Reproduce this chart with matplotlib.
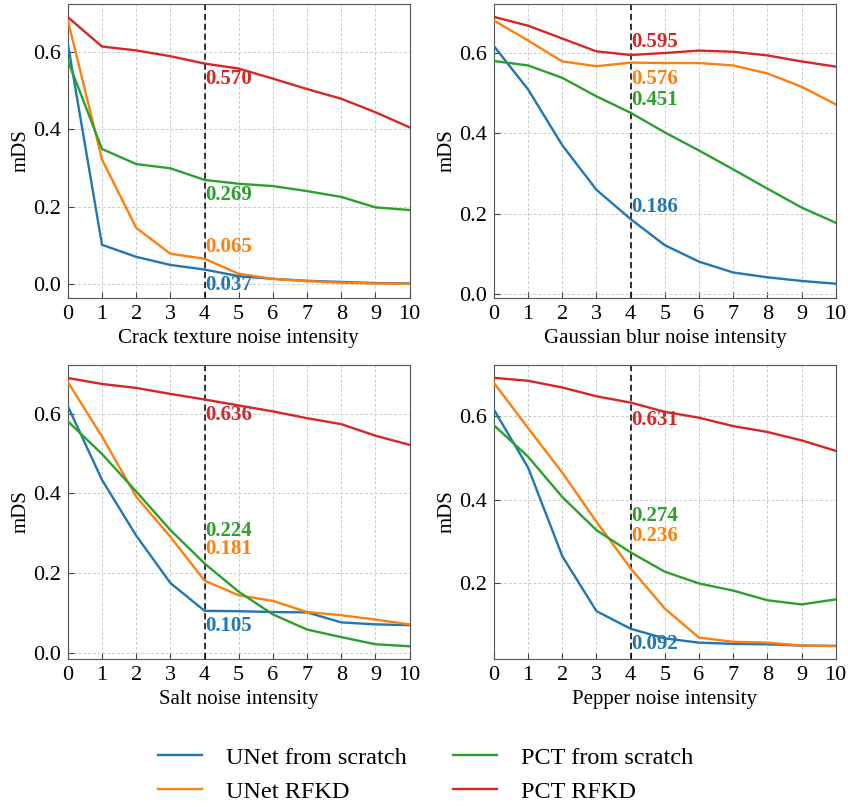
import numpy as np
import matplotlib
matplotlib.use('Agg')
import matplotlib.pyplot as plt

plt.rcParams['font.family'] = ['Liberation Serif', 'DejaVu Serif']

x = list(range(11))
mark_x = 4

# crack texture
crack_unet = [0.621, 0.101, 0.070, 0.049, 0.037, 0.020, 0.013, 0.008, 0.005, 0.002, 0.001]
crack_unet_kd = [0.682, 0.322, 0.145, 0.078, 0.065, 0.026, 0.013, 0.007, 0.003, 0.001, 0.000]
crack_pct = [0.578, 0.349, 0.310, 0.299, 0.269, 0.259, 0.253, 0.240, 0.225, 0.198, 0.191]
crack_pct_kd = [0.690, 0.614, 0.604, 0.589, 0.570, 0.557, 0.531, 0.504, 0.479, 0.444, 0.405]

# gaussian blur
blur_unet = [0.617, 0.509, 0.370, 0.259, 0.186, 0.121, 0.080, 0.053, 0.041, 0.032, 0.025]
blur_unet_kd = [0.681, 0.631, 0.579, 0.567, 0.576, 0.575, 0.575, 0.569, 0.549, 0.516, 0.472]
blur_pct = [0.580, 0.569, 0.538, 0.492, 0.451, 0.402, 0.357, 0.310, 0.262, 0.215, 0.177]
blur_pct_kd = [0.690, 0.668, 0.636, 0.604, 0.595, 0.600, 0.606, 0.603, 0.594, 0.579, 0.566]

# salt
salt_unet = [0.619, 0.434, 0.294, 0.175, 0.105, 0.104, 0.102, 0.101, 0.076, 0.071, 0.069]
salt_unet_kd = [0.680, 0.543, 0.392, 0.291, 0.181, 0.144, 0.130, 0.102, 0.094, 0.083, 0.071]
salt_pct = [0.581, 0.499, 0.405, 0.308, 0.224, 0.153, 0.096, 0.058, 0.039, 0.021, 0.016]
salt_pct_kd = [0.690, 0.675, 0.665, 0.650, 0.636, 0.621, 0.606, 0.589, 0.574, 0.545, 0.522]

# pepper
pepper_unet = [0.614, 0.476, 0.265, 0.134, 0.092, 0.069, 0.059, 0.056, 0.055, 0.052, 0.051]
pepper_unet_kd = [0.678, 0.570, 0.464, 0.347, 0.236, 0.140, 0.071, 0.061, 0.059, 0.052, 0.051]
pepper_pct = [0.577, 0.502, 0.406, 0.327, 0.274, 0.228, 0.200, 0.183, 0.160, 0.150, 0.162]
pepper_pct_kd = [0.690, 0.683, 0.667, 0.646, 0.631, 0.609, 0.595, 0.575, 0.561, 0.541, 0.516]

labels = ['UNet from scratch', 'UNet RFKD', 'PCT from scratch', 'PCT RFKD']
colors = ['#1f77b4', '#ff7f0e', '#2ca02c', '#d62728']
xlabels = ['Crack texture noise intensity', 'Gaussian blur noise intensity',
           'Salt noise intensity', 'Pepper noise intensity']
panels = [
    [crack_unet, crack_unet_kd, crack_pct, crack_pct_kd],
    [blur_unet, blur_unet_kd, blur_pct, blur_pct_kd],
    [salt_unet, salt_unet_kd, salt_pct, salt_pct_kd],
    [pepper_unet, pepper_unet_kd, pepper_pct, pepper_pct_kd],
]
ylims = [(-0.036, 0.724), (-0.010, 0.722), (-0.016, 0.722), (0.020, 0.720)]
# vertical shift of the value labels, per panel, same order as labels
label_shift = [
    [-0.040, 0.031, -0.038, -0.040],
    [0.031, -0.040, 0.033, 0.033],
    [-0.038, 0.079, 0.082, -0.038],
    [-0.036, 0.078, 0.086, -0.041],
]

fig = plt.figure(figsize=(8.48, 8.07), dpi=100)
boxes = [[0.080, 0.631, 0.403, 0.364], [0.5825, 0.631, 0.403, 0.364],
         [0.080, 0.1834, 0.403, 0.364], [0.5825, 0.1834, 0.403, 0.364]]

for i in range(4):
    ax = fig.add_axes(boxes[i])
    for j in range(4):
        ax.plot(x, panels[i][j], color=colors[j], lw=1.7, label=labels[j], zorder=3)
        v = panels[i][j][mark_x]
        ax.text(mark_x + 0.02, v + label_shift[i][j], '%.3f' % v, color=colors[j],
                fontsize=15, fontweight='bold', va='center', ha='left', zorder=4)
    ax.axvline(mark_x, color='black', ls=(0, (4, 2.5)), lw=1.1, zorder=2)
    ax.set_xticks(x)
    ax.set_yticks([0.0, 0.2, 0.4, 0.6])
    ax.set_xlim(0, 10)
    ax.set_ylim(*ylims[i])
    ax.grid(True, ls=(0, (3, 2)), color='#cccccc', lw=0.7)
    ax.tick_params(direction='in', labelsize=16, length=4, color='#444444', pad=5)
    ax.set_xlabel(xlabels[i], fontsize=15, labelpad=4)
    ax.set_ylabel('mDS', fontsize=15, labelpad=2)
    for s in ax.spines.values():
        s.set_color('#555555')
    if i == 0:
        handles, labs = ax.get_legend_handles_labels()

fig.legend(handles, labs, loc='center', bbox_to_anchor=(0.502, 0.040), ncol=2,
           frameon=False, fontsize=17.5, handlelength=1.8, columnspacing=1.9,
           handletextpad=1.0, labelspacing=0.5)

fig.savefig('out.png', dpi=100)
